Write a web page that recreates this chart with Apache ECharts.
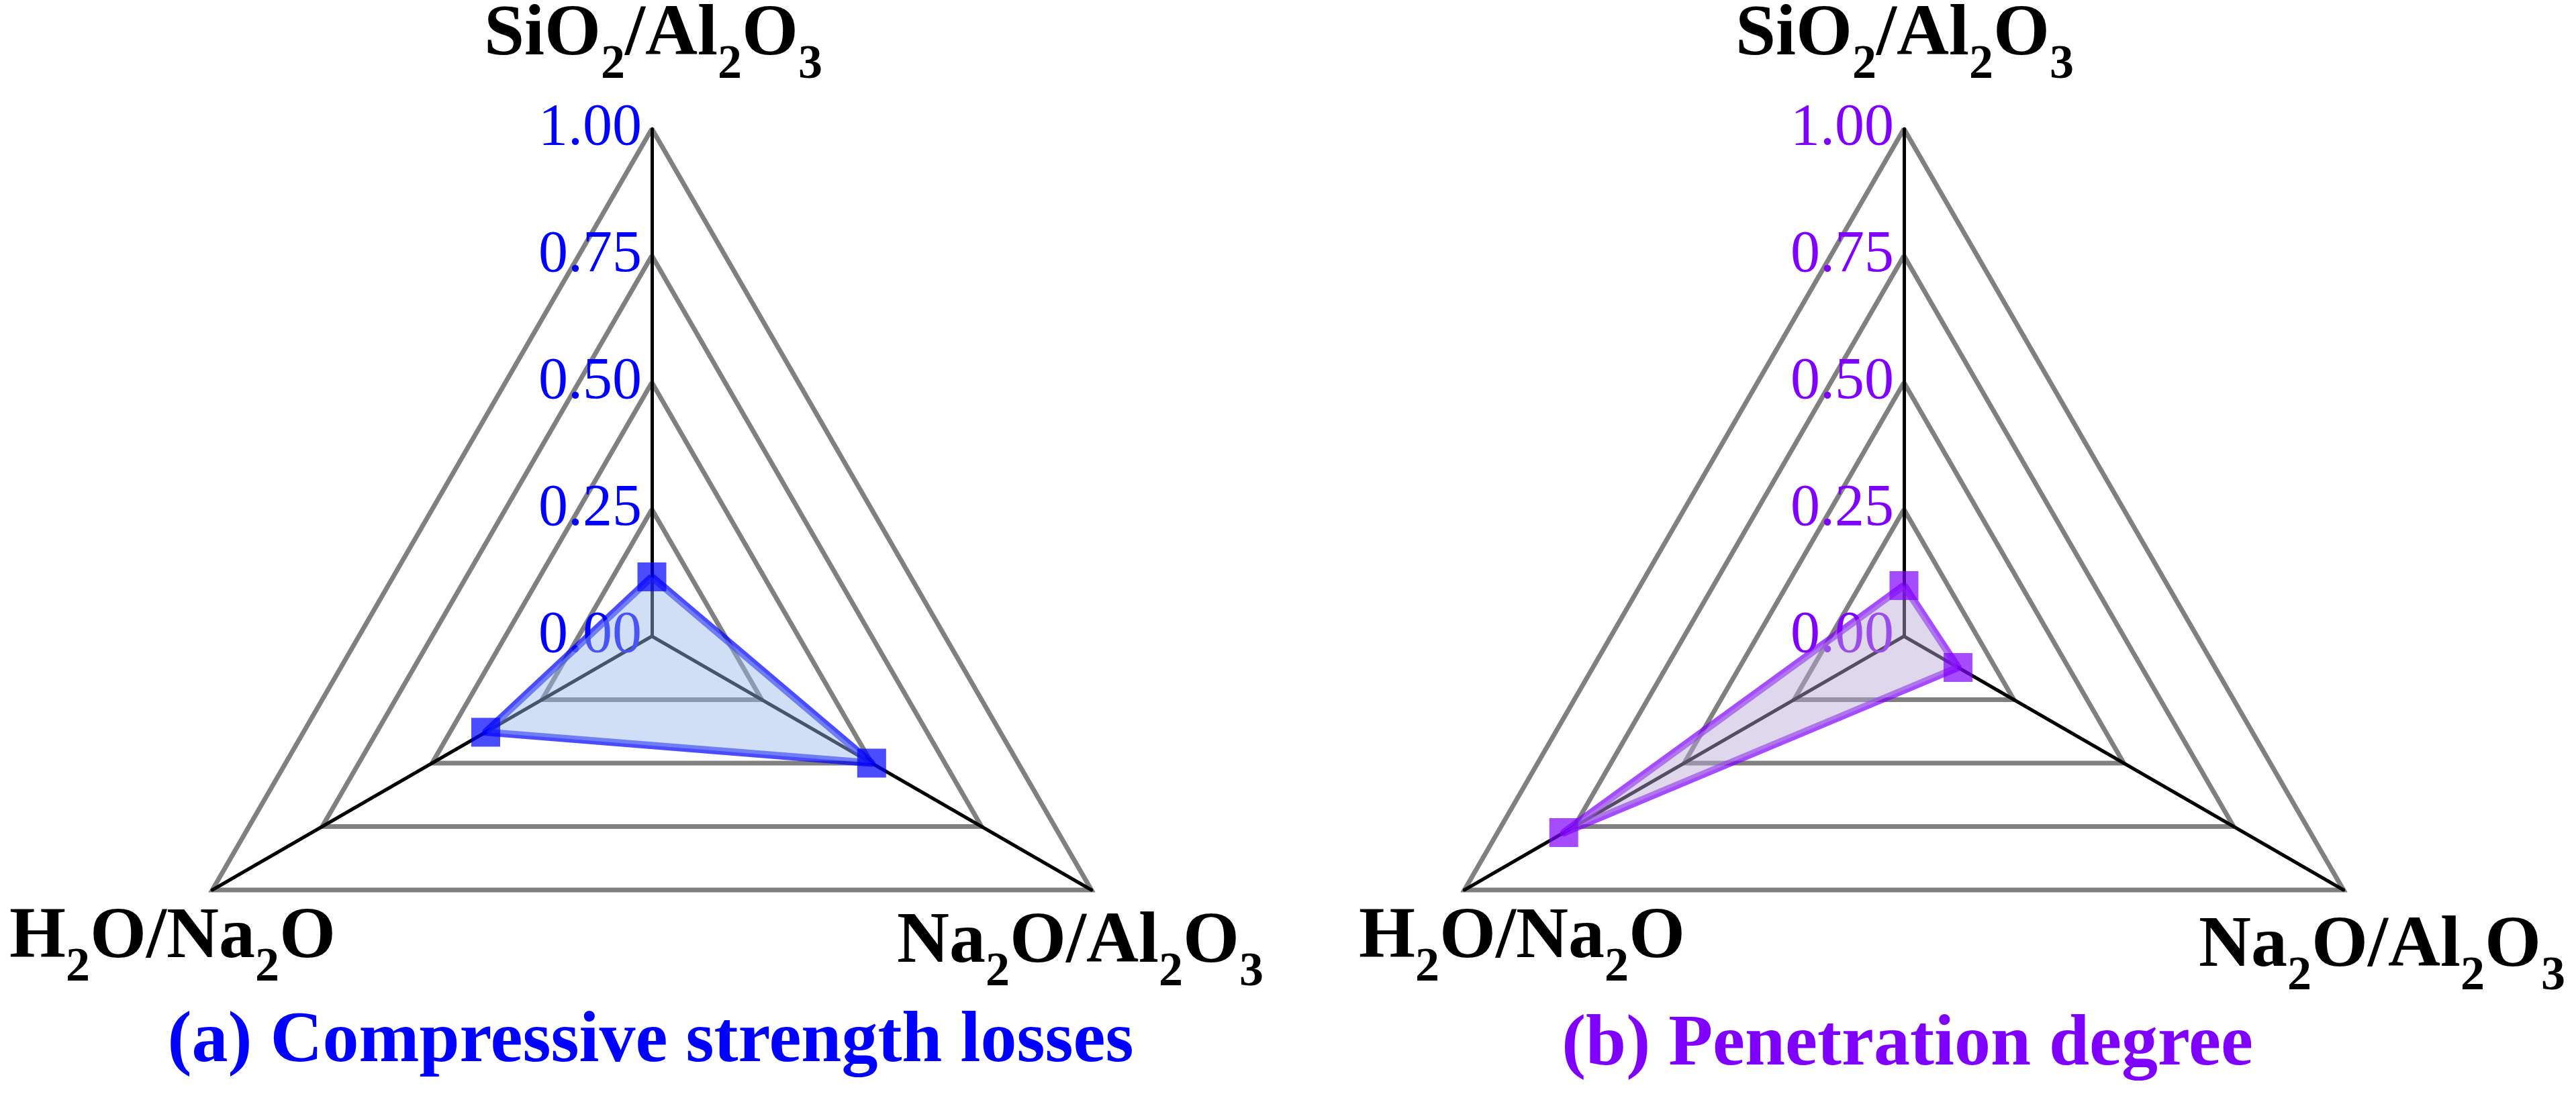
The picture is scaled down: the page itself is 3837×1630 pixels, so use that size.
<!DOCTYPE html>
<html>
<head>
<meta charset="utf-8">
<script src="https://cdn.jsdelivr.net/npm/echarts@6/dist/echarts.min.js"></script>
<style>
html, body { margin: 0; padding: 0; background: #ffffff; }
#chart { width: 3837px; height: 1630px; }
</style>
</head>
<body>
<div id="chart"></div>
<script>
// ---- data ----
const indicators = ['SiO2/Al2O3', 'H2O/Na2O', 'Na2O/Al2O3'];
const tickValues = [0, 0.25, 0.5, 0.75, 1.0];
const strengthLoss = [0.117, 0.378, 0.50];     // (a) SiO2/Al2O3, H2O/Na2O, Na2O/Al2O3
const penetration = [0.100, 0.774, 0.123];     // (b)
const panelTitles = ['(a) Compressive strength losses', '(b) Penetration degree'];

// ---- styling / layout ----
const FONT = 'Liberation Serif';
const panelColors = ['#0000ff', '#8000ff'];
const lineColors = ['rgba(0,0,255,0.7)', 'rgba(128,0,255,0.7)'];
const areaColors = ['rgba(155,185,236,0.46)', 'rgba(186,168,212,0.46)'];
const centers = [[971, 948], [2836, 948]];
const RADIUS = 756;
const namePos = [
  [[973, 53], [257, 1398], [1609, 1405]],
  [[2837, 53], [2267, 1398], [3548, 1411]]
];
const titlePos = [[969, 1553], [2841, 1558]];

function toRich(name) {
  return '{n|' + name.replace(/(\d)/g, '}{s|$1}{n|') + '}';
}
const rich = {
  n: { fontSize: 108, fontWeight: 'bold', fontFamily: FONT, color: '#000', lineHeight: 140, verticalAlign: 'middle' },
  s: { fontSize: 72, fontWeight: 'bold', fontFamily: FONT, color: '#000', lineHeight: 140, verticalAlign: 'middle', padding: [88, 0, 0, 0] }
};

const chart = echarts.init(document.getElementById('chart'), null, { renderer: 'canvas' });

const radars = centers.map(function (c, p) {
  return {
    center: c,
    radius: RADIUS,
    startAngle: 90,
    shape: 'polygon',
    splitNumber: tickValues.length - 1,
    indicator: indicators.map(function (n, i) {
      const ind = { name: n, min: tickValues[0], max: tickValues[tickValues.length - 1] };
      if (i !== 0) ind.axisLabel = { show: false };
      return ind;
    }),
    axisName: { show: false },
    axisLine: { show: true, lineStyle: { color: '#000000', width: 5 } },
    axisTick: { show: false },
    splitLine: { show: true, lineStyle: { color: '#808080', width: 7 } },
    splitArea: { show: false },
    axisLabel: {
      show: true,
      color: panelColors[p],
      fontSize: 88,
      fontFamily: FONT,
      fontWeight: 'normal',
      margin: 15,
      formatter: function (v) { return Number(v).toFixed(2); }
    }
  };
});

const titles = [];
panelTitles.forEach(function (t, p) {
  titles.push({
    text: t, left: titlePos[p][0], top: titlePos[p][1], padding: 0,
    textAlign: 'center', textVerticalAlign: 'middle',
    textStyle: { fontSize: 108, fontWeight: 'bold', fontFamily: FONT, color: panelColors[p] }
  });
  indicators.forEach(function (n, i) {
    titles.push({
      text: toRich(n), left: namePos[p][i][0], top: namePos[p][i][1], padding: 0,
      textAlign: 'center', textVerticalAlign: 'middle',
      textStyle: { rich: rich }
    });
  });
});

const seriesData = [strengthLoss, penetration];
const series = seriesData.map(function (vals, p) {
  return {
    type: 'radar',
    radarIndex: p,
    symbol: 'rect',
    symbolSize: 43,
    data: [{
      value: vals,
      lineStyle: { color: lineColors[p], width: 11, opacity: 1 },
      itemStyle: { color: lineColors[p], opacity: 1, borderWidth: 0 },
      areaStyle: { color: areaColors[p], opacity: 1 }
    }],
    lineStyle: { color: lineColors[p], width: 11, opacity: 1 },
    itemStyle: { color: lineColors[p], opacity: 1, borderWidth: 0 },
    areaStyle: { color: areaColors[p], opacity: 1 }
  };
});

chart.setOption({
  backgroundColor: '#ffffff',
  animation: false,
  title: titles,
  radar: radars,
  series: series
});
</script>
</body>
</html>
